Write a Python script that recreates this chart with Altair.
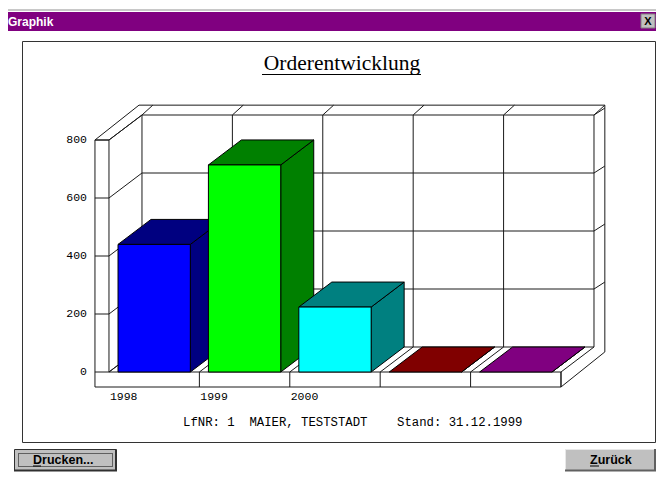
import altair as alt
import pandas as pd

# ---- data ----
title_text = "Orderentwicklung"
footer_text = "LfNR: 1\u00a0\u00a0MAIER, TESTSTADT\u00a0\u00a0\u00a0\u00a0Stand: 31.12.1999"
years = ["1998", "1999", "2000", "", ""]
values = [440, 714, 224, 0, 0]
front_colors = ["#0000FF", "#00FF00", "#00FFFF", "#FF0000", "#FF00FF"]
dark_colors = ["#000080", "#008000", "#008080", "#800000", "#800080"]
y_ticks = [0, 200, 400, 600, 800]

# ---- scales: slot units across, order values up ----
W, H = 648, 464
xs = alt.Scale(domain=[-1.117, 6.051], range=[0, W], nice=False, zero=False)
ys = alt.Scale(domain=[-344.8, 1255.2], range=[H, 0], nice=False, zero=False)
DX, DY = 0.365, 86.2      # depth of the oblique floor
OX, OY = 0.12, 34.0       # outer shell offset beyond the back wall
LOW = -51.7               # bottom of the front plinth
LEFT = -0.155             # left of the front plinth
BAR0, BAR1 = 0.10, 0.90
N = len(values)
TOP = y_ticks[-1]
LINE = "#1a1a1a"


def X(f):
    return alt.X(f, type="quantitative", scale=xs, axis=None, stack=False)


def Y(f):
    return alt.Y(f, type="quantitative", scale=ys, axis=None, stack=False)


def segments(rows, color=LINE, width=1):
    df = pd.DataFrame(rows, columns=["a", "b", "c", "d"])
    return alt.Chart(df).mark_rule(color=color, strokeWidth=width).encode(
        x=X("a"), y=Y("b"), x2="c", y2="d"
    )


def px(v):
    return alt.value(v - 8)


def box(x0, y0, x1, y1, fill, stroke=None, width=1, dash=None):
    kw = dict(fill=fill)
    if stroke:
        kw.update(stroke=stroke, strokeWidth=width)
    if dash:
        kw["strokeDash"] = dash
    return alt.Chart(alt.Data(values=[{}])).mark_rect(**kw).encode(
        x=px(x0), x2=px(x1), y=px(y0), y2=px(y1)
    )


def pline(x0, y0, x1, y1, color="#000000", width=1):
    return alt.Chart(alt.Data(values=[{}])).mark_rule(color=color, strokeWidth=width).encode(
        x=px(x0), x2=px(x1), y=px(y0), y2=px(y1)
    )


def label(x, y, text, font, size, color="#000000", align="left", weight="normal"):
    return alt.Chart(alt.Data(values=[{}])).mark_text(
        text=text, font=font, fontSize=size, color=color, align=align,
        baseline="middle", fontWeight=weight
    ).encode(x=px(x), y=px(y))


layers = []

# ---- window chrome ----
layers += [
    pline(8, 10, 656, 10, "#C8C8C8", 2),
    box(8, 12, 656, 31, "#800080"),
    label(8, 22, "Graphik", "Liberation Sans", 12, "#FFFFFF", weight="bold"),
    box(641, 14, 655, 28, "#C0C0C0", "#808080"),
    label(648, 21.5, "X", "Liberation Sans", 11, "#000000", align="center", weight="bold"),
    box(22.5, 41.5, 655.5, 442.5, "#FFFFFF", "#333333"),
    label(342, 64, title_text, "Liberation Serif", 21.5, align="center"),
    pline(262, 74.5, 421, 74.5),
]

# ---- 3D shell: walls, grid, floor ----
rows = []
rows += [(LEFT, TOP, 0, TOP), (LEFT, TOP, LEFT, LOW), (0, TOP, 0, 0)]
rows += [(LEFT, TOP, DX - 0.033, TOP + DY + OY), (0, TOP, DX, TOP + DY)]
rows += [(DX - 0.033, TOP + DY + OY, N + DX + OX, TOP + DY + OY)]
rows += [(N + DX + OX, TOP + DY + OY, N + DX + OX, DY - 17)]
rows += [(N + DX + OX, DY - 17, N, LOW), (LEFT, LOW, N, LOW), (0, 0, N, 0), (N, 0, N, LOW)]
for i in range(N + 1):
    rows.append((i + DX, DY, i + DX, TOP + DY))
    rows.append((i + DX, TOP + DY, i + DX + OX, TOP + DY + OY))
    rows.append((i, 0, i + DX, DY))
    if i:
        rows.append((i, 0, i, LOW))
for t in y_ticks:
    rows.append((0, t, DX, t + DY))
    rows.append((DX, t + DY, N + DX, t + DY))
    rows.append((LEFT, t, 0, t))
    if t:
        rows.append((N + DX, t + DY, N + DX + OX, t + DY + 24))
layers.append(segments(rows))

# ---- value and year labels ----
tick_df = pd.DataFrame({"v": y_ticks, "s": [-0.243] * len(y_ticks), "t": [str(t) for t in y_ticks]})
layers.append(
    alt.Chart(tick_df).mark_text(font="Liberation Mono", fontSize=11.5, align="right", baseline="middle", color="#000000")
    .encode(x=X("s"), y=Y("v"), text="t:N")
)
year_df = pd.DataFrame({"s": [i + 0.01 for i in range(3)], "v": [-86.0] * 3, "t": years[:3]})
layers.append(
    alt.Chart(year_df).mark_text(font="Liberation Mono", fontSize=11.5, align="left", baseline="middle", color="#000000")
    .encode(x=X("s"), y=Y("v"), text="t:N")
)
layers.append(label(183, 422, footer_text, "Liberation Mono", 12.3))

# ---- bars, back to front in slot order ----
for i, (v, fc, dc) in enumerate(zip(values, front_colors, dark_colors)):
    x0, x1 = i + BAR0, i + BAR1
    side = pd.DataFrame({"x": [x1, x1 + DX], "y": [v, v + DY], "b": [0, DY]})
    layers.append(
        alt.Chart(side).mark_area(color=dc, stroke="#000000", strokeWidth=1, opacity=1)
        .encode(x=X("x"), y=Y("y"), y2="b")
    )
    top = pd.DataFrame({"y": [v, v + DY], "a": [x0, x0 + DX], "b": [x1, x1 + DX]})
    layers.append(
        alt.Chart(top).mark_area(color=dc, stroke="#000000", strokeWidth=1, orient="horizontal", opacity=1)
        .encode(y=Y("y"), x=X("a"), x2="b")
    )
    if v > 0:
        front = pd.DataFrame({"a": [x0], "b": [x1], "y": [v], "z": [0]})
        layers.append(
            alt.Chart(front).mark_rect(color=fc, stroke="#000000", strokeWidth=1, opacity=1)
            .encode(x=X("a"), x2="b", y=Y("y"), y2="z")
        )

# ---- buttons (the page margin leaves room down to y=472 and across to x=656) ----
layers += [
    box(14.5, 449.5, 116.5, 470.5, "#C0C0C0", "#303030", 1),
    pline(116, 450, 116, 471, "#303030", 2),
    pline(14, 470.5, 117, 470.5, "#303030", 2),
    box(18.5, 453.5, 112.5, 466.5, "#C0C0C0", "#000000", 1, [1, 1]),
    label(33, 460, "Drucken...", "Liberation Sans", 12.5, weight="bold"),
    pline(33, 466, 41, 466),
    box(565, 449, 656, 471, "#C0C0C0"),
    pline(565, 449.5, 656, 449.5, "#E8E8E8", 1),
    pline(565.5, 449, 565.5, 471, "#E8E8E8", 1),
    pline(655, 449, 655, 471, "#606060", 2),
    pline(565, 470.5, 656, 470.5, "#606060", 2),
    label(590, 460, "Zurück", "Liberation Sans", 12.5, weight="bold"),
    pline(590, 466, 599, 466),
]

chart = alt.layer(*layers).properties(
    width=W, height=H, padding=0, autosize=alt.AutoSizeParams(type="none"), background="#FFFFFF"
).configure_view(stroke=None)

chart.save("out.html", embed_options={"renderer": "svg", "actions": False})
